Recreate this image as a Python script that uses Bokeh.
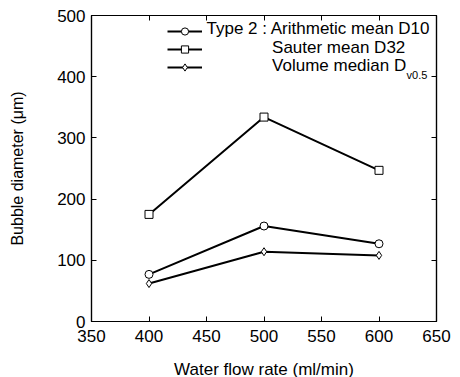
from bokeh.plotting import figure
from bokeh.models import LinearAxis, Range1d, Legend, LegendItem, Label, FixedTicker
from bokeh.embed import file_html
from bokeh.resources import INLINE

flow = [400, 500, 600]
d10 = [77, 156, 127]
d32 = [175, 334, 247]
dv05 = [62, 114, 108]

x_ticks = [350, 400, 450, 500, 550, 600, 650]
y_ticks = [0, 100, 200, 300, 400, 500]

FONT = "Liberation Sans"

p = figure(frame_width=345, frame_height=306, output_backend="svg", toolbar_location=None,
           x_range=Range1d(350, 650), y_range=Range1d(0, 500),
           min_border_left=91, min_border_right=20, min_border_top=15, min_border_bottom=48)
p.grid.visible = False
p.outline_line_color = "black"
p.outline_line_width = 1.2
p.background_fill_color = "white"
p.border_fill_color = "white"

def style(ax, labels=True):
    ax.major_tick_in = 5
    ax.major_tick_out = 0
    ax.minor_tick_in = 0
    ax.minor_tick_out = 0
    ax.axis_line_color = "black"
    ax.axis_line_width = 1.2
    ax.major_tick_line_color = "black"
    ax.major_label_text_font = FONT
    ax.major_label_text_font_size = "17px"
    ax.major_label_text_color = "black"
    ax.axis_label_text_font = FONT
    ax.axis_label_text_font_style = "normal"
    ax.axis_label_text_color = "black"
    if not labels:
        ax.major_label_text_alpha = 0

p.xaxis.ticker = FixedTicker(ticks=x_ticks)
p.yaxis.ticker = FixedTicker(ticks=y_ticks)
for ax in p.xaxis + p.yaxis:
    style(ax)
p.xaxis.axis_label = "Water flow rate (ml/min)"
p.xaxis.axis_label_text_font_size = "17px"
p.xaxis.axis_label_standoff = 15
p.xaxis.major_label_standoff = 8
p.yaxis.axis_label = "Bubble diameter (\u03bcm)"
p.yaxis.axis_label_text_font_size = "16px"
p.yaxis.axis_label_standoff = 28
p.yaxis.major_label_standoff = 6

top = LinearAxis(ticker=FixedTicker(ticks=x_ticks))
style(top, labels=False)
p.add_layout(top, "above")
right = LinearAxis(ticker=FixedTicker(ticks=y_ticks))
style(right, labels=False)
p.add_layout(right, "right")
for ax in (top, right):
    ax.major_label_text_font_size = "1px"
    ax.major_label_standoff = 0

lw = 2
ms = 8
l1 = p.line(flow, d10, line_color="black", line_width=lw)
m1 = p.scatter(flow, d10, marker="circle", size=ms, fill_color="white", line_color="black", line_width=1)
l2 = p.line(flow, d32, line_color="black", line_width=lw)
m2 = p.scatter(flow, d32, marker="square", size=ms, fill_color="white", line_color="black", line_width=1)
l3 = p.line(flow, dv05, line_color="black", line_width=lw)
m3 = p.scatter(flow, dv05, marker="diamond", size=ms, fill_color="white", line_color="black", line_width=1)

legend = Legend(items=[LegendItem(label=" ", renderers=[l1, m1]),
                       LegendItem(label=" ", renderers=[l2, m2]),
                       LegendItem(label=" ", renderers=[l3, m3])],
                location=(76, 245), glyph_width=35, glyph_height=18, spacing=0,
                padding=0, margin=0, label_standoff=0, label_width=1,
                border_line_color=None, background_fill_alpha=0,
                label_text_font_size="1px")
p.add_layout(legend, "center")

legend_text = ["Type 2 : Arithmetic mean D10", "Sauter mean D32", "Volume median D"]
legend_tx = [450, 507, 507]
legend_ty = [479, 448, 418]
for t, tx, ty in zip(legend_text, legend_tx, legend_ty):
    p.add_layout(Label(x=tx, y=ty, text=t, text_font=FONT, text_font_size="17px",
                       text_baseline="middle", text_color="black"))
p.add_layout(Label(x=624, y=403, text="v0.5", text_font=FONT, text_font_size="11px",
                   text_baseline="middle", text_color="black"))

open("out.html", "w").write(file_html(p, INLINE))
